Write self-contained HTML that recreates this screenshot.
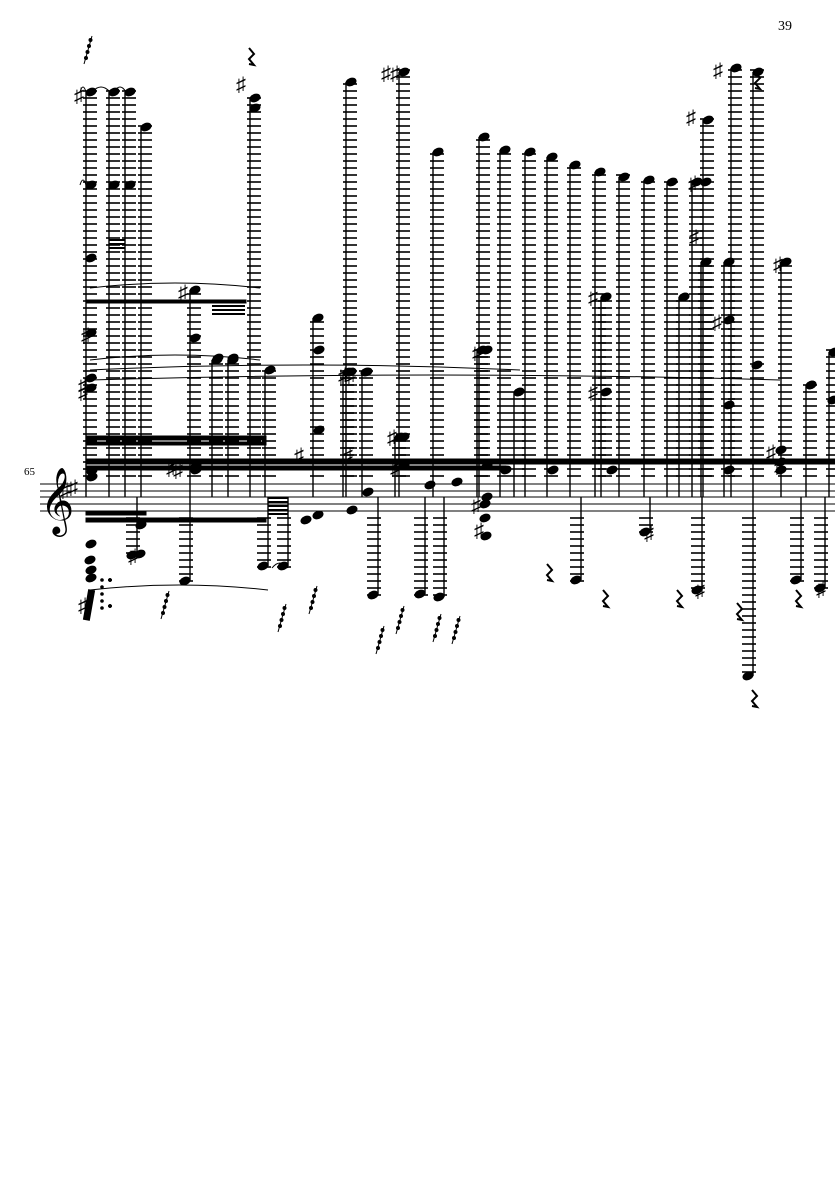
<!DOCTYPE html>
<html><head><meta charset="utf-8"><style>
html,body{margin:0;padding:0;background:#fff;width:835px;height:1181px;overflow:hidden}
svg{display:block}
text{font-family:"Liberation Serif",serif}
</style></head><body>
<svg id="s" width="835" height="1181" viewBox="0 0 835 1181" xmlns="http://www.w3.org/2000/svg">
<text x="778" y="30" font-size="14">39</text>
<text x="24" y="475" font-size="11">65</text>
<text x="40" y="520" font-size="58" font-family="DejaVu Sans">𝄞</text>
<g id="g" stroke="#000" fill="#000"></g>
</svg>
<script>
const g=document.getElementById('g');let h='';
const S=[484,491,497,504,511];
S.forEach(y=>h+=`<line x1="40" y1="${y}" x2="835" y2="${y}" stroke-width="1"/>`);
const up=[[86,92],[109,92],[125,92],[141,127],[250,98],[346,82],[399,72],[433,152],[479,137],[500,150],[525,152],[547,157],[570,165],[595,172],[619,177],[644,180],[667,182],[692,182],[703,120],[731,68],[753,72],[190,290],[313,318],[212,360],[228,360],[265,370],[343,372],[362,372],[395,437],[477,350],[514,392],[601,297],[679,297],[701,262],[724,262],[781,262],[806,385],[829,352]];
const lo=[[137,555],[190,581],[268,566],[288,566],[378,595],[425,594],[444,597],[581,580],[650,532],[702,590],[753,676],[801,580],[825,588]];
function head(x,y){h+=`<ellipse cx="${x}" cy="${y}" rx="5.2" ry="3.6" transform="rotate(-22 ${x} ${y})"/>`;}
up.forEach(([x,y])=>{
 for(let ly=476;ly>=y-2;ly-=7)h+=`<line x1="${x-3}" y1="${ly}" x2="${x+11}" y2="${ly}" stroke-width="1.6"/>`;
 h+=`<line x1="${x}" y1="${y}" x2="${x}" y2="497" stroke-width="1.4"/>`;head(x+5,y);
});
lo.forEach(([x,y])=>{
 for(let ly=518;ly<=y+2;ly+=7)h+=`<line x1="${x-11}" y1="${ly}" x2="${x+3}" y2="${ly}" stroke-width="1.6"/>`;
 h+=`<line x1="${x}" y1="497" x2="${x}" y2="${y}" stroke-width="1.4"/>`;head(x-5,y);
});
const extra=[[91,185],[91,258],[91,333],[91,378],[91,388],[114,185],[130,185],[91,544],[91,570],[91,578],[195,338],[218,358],[233,358],[255,108],[319,350],[319,430],[351,372],[366,372],[318,515],[352,510],[368,492],[306,520],[404,437],[487,350],[519,392],[606,297],[606,392],[684,297],[706,182],[729,320],[729,405],[757,365],[811,385],[833,400],[92,471],[92,477],[196,466],[196,470],[404,466],[487,466],[487,497],[485,504],[485,518],[486,536],[506,470],[553,470],[612,470],[729,470],[781,450],[781,462],[781,470],[141,525],[430,485],[457,482],[140,554],[90,560]];
extra.forEach(([x,y])=>head(x,y));
h+=`<rect x="86" y="459" width="749" height="5"/>`;
h+=`<rect x="86" y="466" width="420" height="4"/>`;
h+=`<rect x="86" y="436" width="180" height="4"/>`;
h+=`<rect x="86" y="442" width="180" height="3"/>`;
h+=`<rect x="86" y="300" width="160" height="3"/>`;
h+=`<rect x="86" y="518" width="180" height="4"/>`;
h+=`<rect x="86" y="512" width="60" height="3"/>`;
for(let i=0;i<5;i++)h+=`<line x1="268" y1="${498+i*4}" x2="288" y2="${498+i*4}" stroke-width="2"/>`;
for(let i=0;i<4;i++)h+=`<line x1="212" y1="${302+i*4}" x2="245" y2="${302+i*4}" stroke-width="2"/>`;
for(let i=0;i<3;i++)h+=`<line x1="109" y1="${240+i*4}" x2="125" y2="${240+i*4}" stroke-width="2"/>`;
[[80,92,86],[92,92,110],[114,92,126],[80,185,86],[90,288,260],[90,370,520],[90,380,780],[90,360,260],[90,590,268],[272,568,288]].forEach(([a,y,b])=>h+=`<path d="M${a} ${y} Q${(a+b)/2} ${y-10} ${b} ${y}" fill="none" stroke-width="1"/>`);
const sh=[[76,95],[238,84],[383,73],[392,73],[180,292],[474,352],[340,375],[348,375],[389,437],[590,297],[590,392],[688,117],[690,183],[691,237],[714,322],[775,264],[83,335],[80,385],[80,392],[168,468],[175,470],[392,468],[473,505],[476,530],[130,556],[646,533],[697,590],[818,589],[62,490],[70,487],[768,452],[776,466],[80,605],[296,455],[345,455],[715,70]];
sh.forEach(([x,y])=>h+=`<text x="${x-2}" y="${y+7}" font-size="20" stroke="none" font-family="DejaVu Sans">♯</text>`);
const rs=[[250,58],[756,82],[548,574],[604,600],[678,600],[738,613],[753,700],[797,600]];
rs.forEach(([x,y])=>h+=`<path d="M${x-1} ${y-10} l5 6 l-5 5 l5 6 l-5 -1" fill="none" stroke-width="2"/>`);
const gr=[[88,50],[165,605],[282,618],[313,600],[380,640],[400,620],[437,628],[456,630]];
gr.forEach(([x,y])=>{h+=`<line x1="${x-4}" y1="${y+14}" x2="${x+4}" y2="${y-14}" stroke-width="1"/>`;for(let i=0;i<4;i++)h+=`<circle cx="${x-2+i*1.5}" cy="${y+8-i*6}" r="1.5"/>`;});
h+=`<rect x="86" y="590" width="6" height="30" transform="rotate(10 89 605)"/>`;
for(let i=0;i<5;i++)h+=`<circle cx="102" cy="${580+i*7}" r="1.3"/><circle cx="110" cy="${580}" r="1.3"/><circle cx="110" cy="606" r="1.3"/>`;
g.innerHTML=h;
</script>
</body></html>
